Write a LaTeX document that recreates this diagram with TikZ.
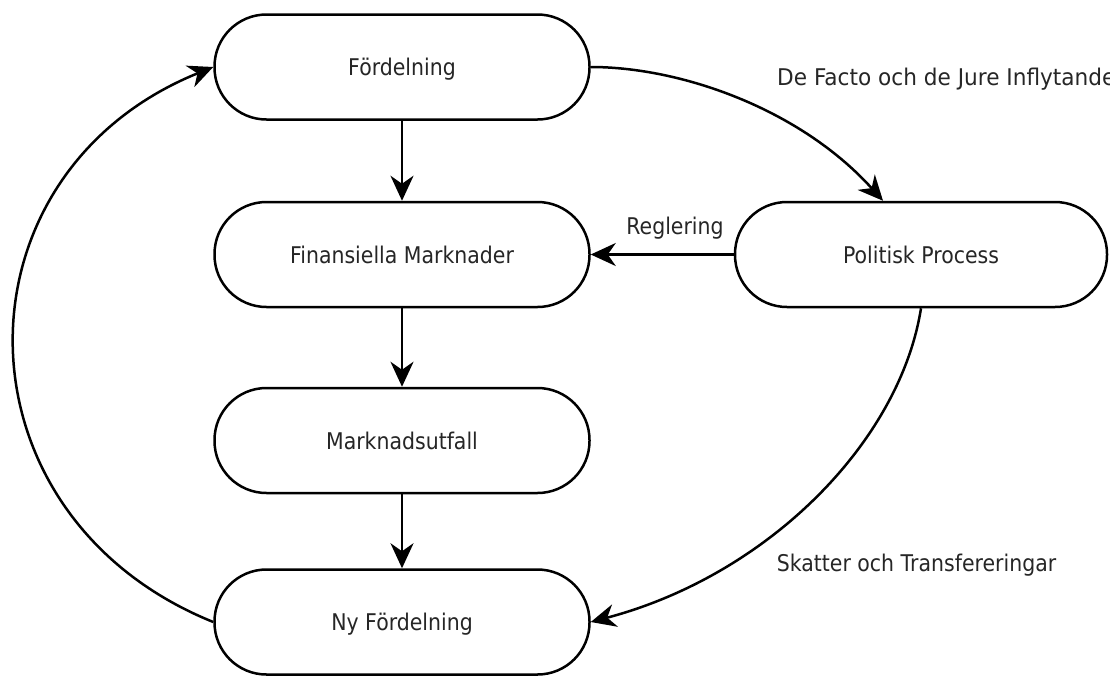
\documentclass[tikz,border=0pt]{standalone}
\usepackage{fontspec}
\setmainfont[FakeStretch=0.89]{DejaVu Sans}
\newfontfamily\widelabelfont[FakeStretch=0.94]{DejaVu Sans}
\usetikzlibrary{arrows.meta}
\begin{document}
\begin{tikzpicture}[x=1pt,y=1pt,
  txt/.style={font=\fontsize{23}{27}\selectfont, text=black!85, text height=17pt, text depth=0pt, inner sep=0pt},
  box/.style={txt, draw=black, line width=2.5pt, rounded corners=52pt, minimum width=375pt, minimum height=105pt, fill=white},
  conn/.style={line width=2.5pt, -{Stealth[length=25pt,width=23pt,inset=8pt]}},
  lbl/.style={txt}]
\useasboundingbox (0,0) rectangle (1110,-675);
\node[box] (F)   at (402,-67)   {Fördelning};
\node[box] (Fin) at (402,-254.5) {Finansiella Marknader};
\node[box] (M)   at (402,-440.5) {Marknadsutfall};
\node[box] (N)   at (402,-622)  {Ny Fördelning};
\node[box, minimum width=372pt] (P) at (921,-254.5) {Politisk Process};
\draw[conn] (F.south) -- (Fin.north);
\draw[conn] (Fin.south) -- (M.north);
\draw[conn] (M.south) -- (N.north);
\draw[conn] (F.east) .. controls +(90,0) and +(-83,92) .. ([xshift=-38pt]P.north);
\draw[conn] (P.west) -- (Fin.east);
\draw[conn] (P.south) .. controls +(-21,-133) and +(178,47) .. (N.east);
\draw[conn] (N.west) to[out=158,in=202,looseness=1.32] (F.west);
\node[lbl, anchor=west, font=\widelabelfont\fontsize{23}{27}\selectfont] (lde) at (777,-76.5) {De Facto och de Jure Inflytande};
\node[lbl] (lreg) at (675,-226) {Reglering};
\node[lbl] (lsk) at (916.5,-562.5) {Skatter och Transfereringar};
\end{tikzpicture}
\end{document}
